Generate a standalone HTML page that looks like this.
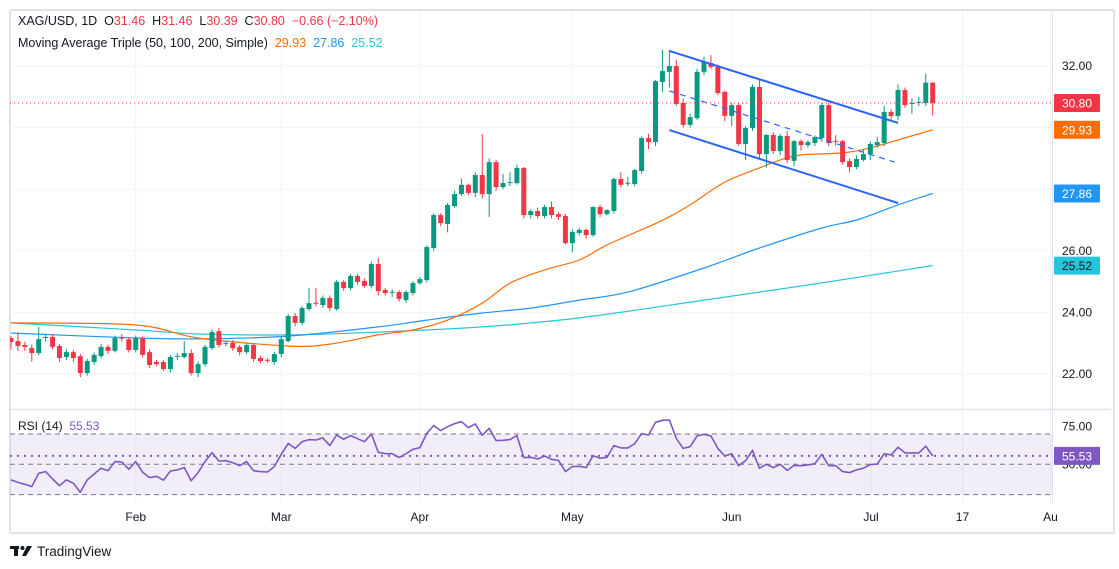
<!DOCTYPE html>
<html><head><meta charset="utf-8"><style>
html,body{margin:0;padding:0;background:#fff;width:1119px;height:569px;overflow:hidden;font-family:"Liberation Sans",sans-serif}
#frame{position:absolute;left:9px;top:9px;width:1102px;height:521px;border:2px solid #e0e3eb;border-radius:2px}
.hdr{position:absolute;left:18px;font-size:12.5px;color:#131722;white-space:pre}
</style></head><body>
<div id="frame"></div>
<svg id="chart" width="1119" height="569" style="position:absolute;left:0;top:0"></svg>
<div class="hdr" style="top:14px">XAG/USD, 1D  O<span style="color:#f23645">31.46</span>  H<span style="color:#f23645">31.46</span>  L<span style="color:#f23645">30.39</span>  C<span style="color:#f23645">30.80</span>  <span style="color:#f23645">−0.66 (−2.10%)</span></div>
<div class="hdr" style="top:36px">Moving Average Triple (50, 100, 200, Simple)  <span style="color:#ff6d00">29.93</span>  <span style="color:#2196f3">27.86</span>  <span style="color:#26c6da">25.52</span></div>
<div class="hdr" style="top:419px;font-size:12px">RSI (14)  <span style="color:#7e57c2">55.53</span></div>
<div style="position:absolute;left:10px;top:543px;height:16px;display:flex;align-items:center">
<svg width="26" height="12"><rect x="0" y="1" width="9" height="3" fill="#131722"/><rect x="4" y="1" width="4" height="10" fill="#131722"/><circle cx="12.5" cy="3" r="2" fill="#131722"/><polygon points="17,1 22,1 16,11 12,11" fill="#131722"/></svg>
<span style="font-size:13.5px;color:#131722;margin-left:1px">TradingView</span></div>
<script>
const opens=[23.17,23.07,22.94,22.84,22.68,23.17,23.20,22.91,22.55,22.71,22.58,22.03,22.39,22.58,22.88,22.75,23.18,23.13,22.78,23.17,22.71,22.39,22.39,22.16,22.57,22.55,22.68,22.03,22.32,22.84,23.39,22.99,23.01,22.88,22.71,22.94,22.52,22.46,22.39,22.65,23.07,23.88,
23.66,24.11,24.31,24.24,24.47,24.11,24.99,24.79,25.18,25.02,24.86,25.57,24.73,24.65,24.66,24.40,24.63,24.95,25.05,26.09,27.16,26.87,27.45,27.84,28.14,27.88,28.46,27.84,28.88,28.07,28.20,28.20,28.69,27.16,27.29,27.13,27.42,27.19,27.13,26.25,26.58,
26.68,26.51,27.42,27.19,27.29,28.33,28.19,28.17,28.59,29.66,29.53,31.48,31.81,32.00,30.80,30.09,30.31,31.81,32.10,31.97,31.16,30.38,30.73,29.47,29.99,
31.32,29.14,29.76,29.24,29.73,28.92,29.56,29.43,29.50,29.66,30.73,29.57,29.56,28.91,28.72,28.95,29.14,29.43,29.50,30.51,30.38,31.22,30.77,30.80,30.80,31.46];
const closes=[23.04,22.91,22.88,22.68,23.13,23.20,22.88,22.52,22.71,22.52,22.03,22.42,22.62,22.88,22.75,23.17,23.15,22.78,23.17,22.62,22.29,22.32,22.16,22.55,22.59,22.68,22.03,22.32,22.88,23.36,22.94,23.01,22.84,22.71,22.94,22.49,22.42,22.44,22.65,23.13,23.88,23.66,
24.14,24.30,24.29,24.47,24.14,24.99,24.79,25.18,24.99,24.86,25.57,24.69,24.63,24.67,24.44,24.66,24.95,25.08,26.12,27.16,26.90,27.49,27.84,28.14,27.88,28.46,27.84,28.88,28.07,28.20,28.23,28.69,27.16,27.29,27.13,27.42,27.16,27.10,26.25,26.61,26.68,
26.51,27.42,27.19,27.32,28.33,28.14,28.21,28.62,29.66,29.53,31.51,31.84,32.00,30.77,30.09,30.34,31.81,32.13,31.97,31.12,30.38,30.73,29.47,29.99,31.32,
29.14,29.76,29.24,29.73,28.95,29.56,29.43,29.53,29.69,30.73,29.50,29.55,28.88,28.72,28.98,29.14,29.47,29.53,30.51,30.38,31.22,30.73,30.80,30.83,31.46,30.80];
const highs=[23.23,23.35,23.05,22.95,23.53,23.30,23.28,22.98,22.80,22.78,22.65,22.50,22.70,22.98,22.95,23.25,23.30,23.20,23.25,23.22,22.80,22.45,22.45,22.62,22.68,23.07,22.80,22.40,22.95,23.45,23.50,23.08,23.10,22.95,23.00,23.00,22.60,22.52,22.72,23.20,23.95,23.98,
24.20,24.80,24.80,24.55,24.55,25.05,25.05,25.25,25.25,25.10,25.65,25.77,24.80,24.75,24.72,24.72,25.02,25.15,26.18,27.22,27.22,27.55,27.95,28.35,28.18,28.55,29.79,29.00,28.95,28.50,28.55,28.80,28.72,27.35,27.40,27.50,27.60,27.25,27.20,26.70,26.75,
26.72,27.45,27.50,27.35,28.38,28.55,28.40,28.66,29.72,29.80,31.55,32.52,32.52,32.20,30.95,30.45,31.90,32.30,32.35,32.05,31.20,30.80,30.80,30.05,31.40,
31.55,29.80,29.85,29.80,29.90,29.60,29.62,29.60,29.75,30.80,30.80,29.75,29.60,29.00,29.10,29.30,29.55,29.70,30.70,30.60,31.40,31.30,30.95,31.00,31.75,31.46];
const lows=[22.80,22.75,22.75,22.40,22.60,23.05,22.80,22.40,22.45,22.40,21.90,21.95,22.30,22.50,22.65,22.70,23.05,22.70,22.70,22.55,22.20,22.25,22.10,22.05,22.45,22.50,21.95,21.90,22.25,22.78,22.85,22.90,22.75,22.60,22.65,22.40,22.35,22.35,22.30,22.55,23.02,23.55,
23.58,24.05,24.20,24.15,24.05,24.05,24.70,24.72,24.90,24.80,24.78,24.55,24.55,24.50,24.35,24.30,24.55,24.90,24.98,26.00,26.80,26.60,27.40,27.78,27.80,27.75,27.70,27.10,27.95,28.00,28.10,28.15,27.05,27.05,27.05,27.05,27.05,27.00,26.20,25.95,26.50,
26.40,26.45,27.10,27.15,27.20,28.05,28.10,28.10,28.50,29.30,29.40,31.15,31.30,30.70,30.00,30.00,30.25,31.70,31.90,31.05,30.20,30.05,29.40,28.95,29.90,
29.00,28.70,29.15,29.10,28.85,28.75,29.25,29.35,29.40,29.55,29.40,29.40,28.80,28.55,28.65,28.90,28.95,29.35,29.40,30.25,30.25,30.65,30.45,30.70,30.70,30.39];
const ma50Idx=[0,18,27,40,46,53,58,63,68,72,77,82,86,94,98,103,108,111,114,120,124,128,133];
const ma50Val=[23.66,23.59,23.17,22.91,22.97,23.27,23.43,23.75,24.30,24.95,25.38,25.70,26.19,26.99,27.49,28.23,28.69,28.95,29.11,29.18,29.34,29.60,29.93];
const ma100Idx=[0,18,27,40,53,60,68,75,82,89,100,108,117,122,128,133];
const ma100Val=[23.33,23.17,23.14,23.23,23.53,23.75,23.98,24.14,24.40,24.66,25.44,26.09,26.74,27.00,27.49,27.86];
const ma200Idx=[0,18,27,40,53,68,82,100,115,133];
const ma200Val=[23.66,23.43,23.30,23.27,23.36,23.53,23.82,24.40,24.89,25.52];
const rsiVals=[39.7,38.1,36.8,35.3,44.1,45.2,40.3,35.9,39.7,37.5,31.5,39.7,43.6,47.4,45.8,51.8,51.5,46.7,51.8,44.7,41.2,42.1,39.5,45.6,46.3,47.8,39.2,44.5,51.8,57.7,52.2,52.4,51.1,49.1,51.8,45.8,45.2,44.9,48.5,56.6,63.8,60.5,64.9,66.3,66.0,67.4,62.3,69.3,66.5,68.9,66.9,64.9,70.0,57.9,57.0,57.0,54.4,57.0,59.9,61.0,70.4,75.5,72.2,74.8,76.8,78.1,74.2,76.6,69.1,73.7,65.6,65.8,66.3,68.9,
54.4,54.6,53.5,55.5,53.3,52.6,45.2,48.5,48.7,47.8,55.7,54.0,54.6,62.3,60.8,60.8,63.6,70.2,69.3,77.7,79.0,79.2,67.1,60.5,61.6,68.7,69.8,68.7,60.5,55.5,57.0,49.1,52.4,59.2,47.4,50.0,47.8,50.0,46.0,49.3,49.1,49.6,50.4,56.6,49.1,49.1,45.2,44.5,46.3,47.4,49.8,50.2,57.0,56.2,61.2,57.5,57.5,57.5,61.9,55.53];
const priceTicks=[22,24,26,28,30,32];
const priceTickLabels=["22.00","24.00","26.00","28.00","30.00","32.00"];
const rsiTicks=[75,50];
const timeLabels=["Feb","Mar","Apr","May","Jun","Jul","17","Au"];
const timeIdx=[18,39,59,81,104,124.1,137.3,150.0];
const chanUpper=[[95,32.49],[128,30.15]];
const chanLower=[[95,29.92],[128,27.55]];
const chanMid=[[95,31.19],[127.5,28.88]];

const X0=11,DX=6.93,PL=10,PR=1052;
const xI=i=>X0+DX*i;
const yP=p=>66+(32-p)*30.8;
const yR=v=>464.3-(v-50)*1.517;
const svg=document.getElementById('chart');
const NS='http://www.w3.org/2000/svg';
function mk(tag,attrs,parent){const e=document.createElementNS(NS,tag);for(const k in attrs)e.setAttribute(k,attrs[k]);(parent||svg).appendChild(e);return e;}
const defs=mk('defs',{});
const cp=mk('clipPath',{id:'pc'},defs);mk('rect',{x:PL,y:11,width:PR-PL,height:398},cp);
const cr=mk('clipPath',{id:'rc'},defs);mk('rect',{x:PL,y:411,width:PR-PL,height:92},cr);

priceTicks.forEach((p,k)=>{
  const g=mk('line',{x1:PL,x2:PR,y1:yP(p),y2:yP(p),stroke:'#f0f3fa','stroke-width':1});
  
  
});
timeIdx.forEach((t,k)=>{
  const g=mk('line',{x1:xI(t),x2:xI(t),y1:11,y2:503,stroke:'#f0f3fa','stroke-width':1});
  
  
  const tl=mk('text',{x:xI(t),y:521,'text-anchor':'middle','font-size':12,fill:'#131722','font-family':'Liberation Sans, sans-serif'});
  tl.textContent=timeLabels[k];
  
  
});
const ax=mk('line',{x1:PR+0.5,x2:PR+0.5,y1:11,y2:503,stroke:'#e0e3eb'});


const sep=mk('line',{x1:PL,x2:1111,y1:409.5,y2:409.5,stroke:'#e0e3eb','stroke-width':1.5});



priceTicks.forEach((p,k)=>{
  const t=mk('text',{x:1062,y:yP(p)+4,'font-size':12,fill:'#131722','font-family':'Liberation Sans, sans-serif'});
  t.textContent=priceTickLabels[k];
  
  
});
rsiTicks.forEach(v=>{
  const t=mk('text',{x:1062,y:yR(v)+4,'font-size':12,fill:'#131722','font-family':'Liberation Sans, sans-serif'});
  t.textContent=v.toFixed(2);
  
  
});

function smoothPath(pts){
  let d='M'+pts[0][0].toFixed(1)+','+pts[0][1].toFixed(1);
  for(let k=0;k<pts.length-1;k++){
    const p0=pts[Math.max(0,k-1)],p1=pts[k],p2=pts[k+1],p3=pts[Math.min(pts.length-1,k+2)];
    const c1=[p1[0]+(p2[0]-p0[0])/6,p1[1]+(p2[1]-p0[1])/6];
    const c2=[p2[0]-(p3[0]-p1[0])/6,p2[1]-(p3[1]-p1[1])/6];
    d+='C'+c1[0].toFixed(1)+','+c1[1].toFixed(1)+' '+c2[0].toFixed(1)+','+c2[1].toFixed(1)+' '+p2[0].toFixed(1)+','+p2[1].toFixed(1);
  }
  return d;
}
function maPath(idx,vals,color,name){
  const pts=idx.map((i,k)=>[xI(i),yP(vals[k])]);
  const p=mk('path',{d:smoothPath(pts),fill:'none',stroke:color,'stroke-width':1.2,'clip-path':'url(#pc)','stroke-linejoin':'round'});
  
  
}
maPath(ma200Idx,ma200Val,'#26c6da','ma200-line');
maPath(ma100Idx,ma100Val,'#2196f3','ma100-line');
maPath(ma50Idx,ma50Val,'#ff6d00','ma50-line');

const cg=mk('g',{'clip-path':'url(#pc)'});


for(let i=0;i<opens.length;i++){
  const up=closes[i]>=opens[i];const col=up?'#089981':'#f23645';
  const x=xI(i);
  const w=mk('line',{x1:x,x2:x,y1:yP(highs[i]),y2:yP(lows[i]),stroke:col,'stroke-width':1},cg);
  
  
  const top=yP(Math.max(opens[i],closes[i])),bot=yP(Math.min(opens[i],closes[i]));
  const b=mk('rect',{x:x-2.5,y:top,width:5,height:Math.max(1,bot-top),fill:col},cg);
  
  
}

function seg(pts,name,dash){
  const l=mk('line',{x1:xI(pts[0][0]),y1:yP(pts[0][1]),x2:xI(pts[1][0]),y2:yP(pts[1][1]),stroke:'#2962ff','stroke-width':dash?1.2:2,'stroke-dasharray':dash?'6,5':'none'});
  
  
}
seg(chanUpper,'channel-upper-line',false);
seg(chanLower,'channel-lower-line',false);
seg(chanMid,'channel-mid-line',true);

const lastC=closes[closes.length-1];
const lp=mk('line',{x1:PL,x2:PR,y1:yP(lastC),y2:yP(lastC),stroke:'#f23645','stroke-width':1,'stroke-dasharray':'1,3'});



const band=mk('rect',{x:PL,y:yR(70),width:PR-PL,height:yR(30)-yR(70),fill:'#7e57c2','fill-opacity':0.1});


[70,50,30].forEach(v=>{
  const l=mk('line',{x1:PL,x2:PR,y1:yR(v),y2:yR(v),stroke:'#787b86','stroke-width':1,'stroke-dasharray':'5,4'});
  
  
});
const lastR=rsiVals[rsiVals.length-1];
const rl=mk('line',{x1:PL,x2:PR,y1:yR(lastR),y2:yR(lastR),stroke:'#7e57c2','stroke-width':2,'stroke-dasharray':'2,5'});


const rp=mk('path',{d:rsiVals.map((v,i)=>(i?'L':'M')+xI(i).toFixed(1)+','+yR(v).toFixed(1)).join(''),fill:'none',stroke:'#7e57c2','stroke-width':1.6,'clip-path':'url(#rc)','stroke-linejoin':'round'});



function tag(y,txt,bg,fg,name){
  const g=mk('g',{});
  
  
  mk('rect',{x:1054,y:y-9,width:46,height:18,fill:bg,rx:1},g);
  const t=mk('text',{x:1077,y:y+4.5,'text-anchor':'middle','font-size':12,fill:fg,'font-family':'Liberation Sans, sans-serif'},g);
  t.textContent=txt;
}
tag(yP(ma200Val[ma200Val.length-1]),ma200Val[ma200Val.length-1].toFixed(2),'#26c6da','#131722','ma200-value-tag');
tag(yP(ma100Val[ma100Val.length-1]),ma100Val[ma100Val.length-1].toFixed(2),'#2196f3','#fff','ma100-value-tag');
tag(yP(ma50Val[ma50Val.length-1]),ma50Val[ma50Val.length-1].toFixed(2),'#ff6d00','#fff','ma50-value-tag');
tag(yP(lastC),lastC.toFixed(2),'#f23645','#fff','last-price-tag');
tag(yR(lastR),lastR.toFixed(2),'#7e57c2','#fff','rsi-value-tag');
</script>
</body></html>
